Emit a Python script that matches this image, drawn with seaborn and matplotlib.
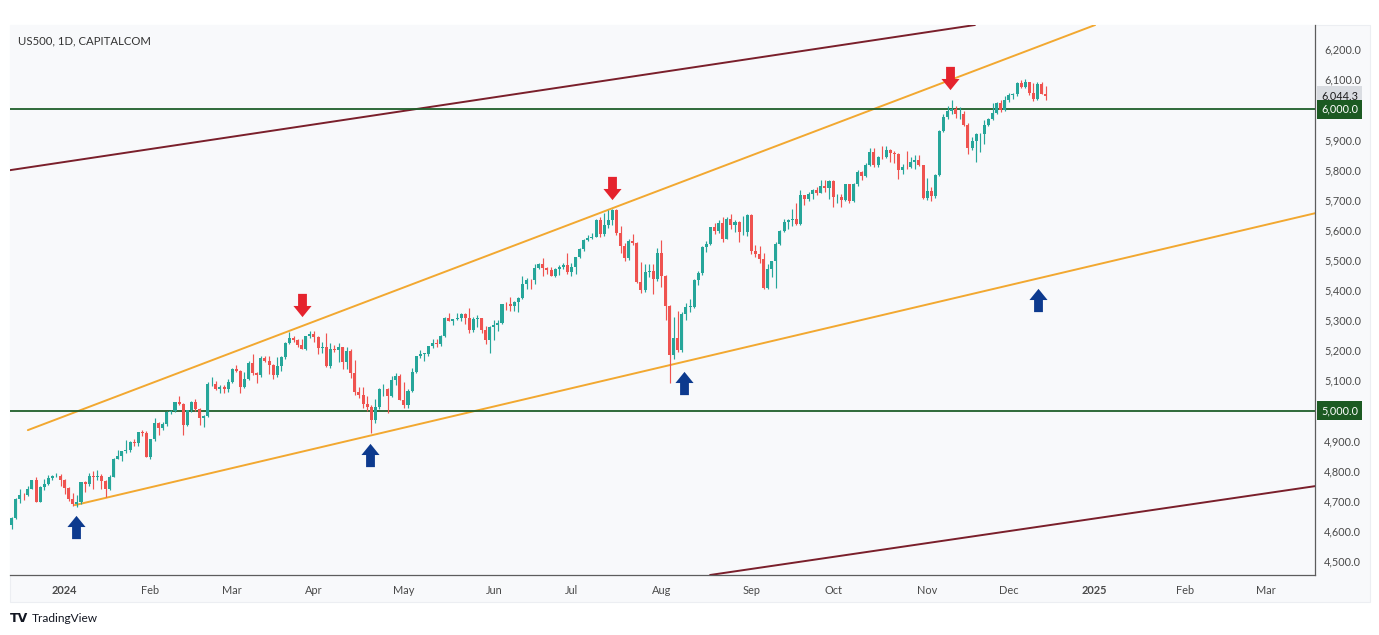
import numpy as np
import pandas as pd
import matplotlib
matplotlib.use("Agg")
import matplotlib.pyplot as plt
import seaborn as sns
from matplotlib.path import Path
from matplotlib.patches import Rectangle
from matplotlib.transforms import blended_transform_factory, offset_copy

# ------------------------------------------------------------------ data
title = "US500, 1D, CAPITALCOM"
start_date = "2023-12-12"
axis_end_date = "2025-03-31"
holidays = ["2023-12-25", "2024-01-01", "2024-01-15", "2024-02-19", "2024-03-29",
            "2024-05-27", "2024-06-19", "2024-07-04", "2024-09-02", "2024-11-28",
            "2024-12-25", "2025-01-01"]

opens = [
    4620, 4644, 4707, 4720, 4719, 4741, 4768, 4698, 4747, 4755, 4775, 4782, 4783,
    4770, 4743, 4705, 4689, 4697, 4764, 4757, 4783, 4780, 4784, 4766, 4739, 4781, 4840, 4850, 4865, 4869, 4894, 4891, 4928, 4925,
    4846, 4906, 4959, 4943, 4954, 4995, 4998, 5027, 5022, 4953, 5001, 5030, 5006, 4976, 4982, 5087, 5089, 5070, 5078, 5070,
    5096, 5137, 5131, 5079, 5105, 5157, 5124, 5118, 5175, 5165, 5150, 5117, 5149, 5179, 5225, 5242, 5234, 5218, 5204, 5248,
    5254, 5244, 5206, 5211, 5147, 5204, 5202, 5210, 5161, 5199, 5123, 5062, 5051, 5022, 5011, 4967, 5011, 5071, 5072, 5048, 5100, 5116,
    5036, 5018, 5064, 5128, 5181, 5188, 5188, 5214, 5223, 5221, 5247, 5308, 5297, 5303, 5308, 5321, 5307, 5268, 5305, 5306, 5267, 5235,
    5278, 5283, 5291, 5354, 5353, 5347, 5361, 5375, 5421, 5434, 5432, 5473, 5487, 5473, 5465, 5448, 5469, 5478, 5483,
    5460, 5475, 5509, 5537, 5567, 5573, 5577, 5634, 5585, 5615, 5631, 5667, 5588, 5545, 5505, 5564, 5556, 5427, 5399, 5459, 5464, 5436,
    5522, 5447, 5347, 5186, 5240, 5200, 5319, 5344, 5344, 5434, 5455, 5543, 5554, 5608, 5597, 5621, 5571, 5635, 5617, 5626, 5592, 5592,
    5648, 5529, 5520, 5503, 5408, 5471, 5496, 5554, 5596, 5626, 5633, 5635, 5618, 5714, 5703, 5719, 5733, 5722, 5745, 5738,
    5762, 5709, 5710, 5700, 5751, 5696, 5751, 5792, 5780, 5815, 5860, 5815, 5842, 5841, 5865, 5854, 5851, 5797, 5810, 5808, 5824, 5833, 5814,
    5705, 5729, 5713, 5783, 5929, 5973, 5996, 6001, 5984, 5985, 5949, 5871, 5894, 5917, 5917, 5949, 5969, 5987, 6022, 5999,
    6032, 6047, 6050, 6086, 6075, 6090, 6053, 6035, 6084, 6051,
]
highs = [
    4646, 4709, 4739, 4726, 4749, 4769, 4779, 4748, 4772, 4785, 4785, 4793, 4789,
    4772, 4745, 4727, 4721, 4764, 4766, 4791, 4799, 4803, 4790, 4768, 4785, 4842, 4868, 4866, 4903, 4898, 4907, 4929, 4934, 4932,
    4906, 4975, 4961, 4963, 4999, 5001, 5030, 5048, 5025, 5002, 5033, 5039, 5010, 4984, 5094, 5111, 5098, 5084, 5085, 5105,
    5140, 5150, 5134, 5128, 5165, 5189, 5128, 5180, 5182, 5180, 5155, 5177, 5180, 5226, 5261, 5246, 5237, 5236, 5249, 5265,
    5264, 5246, 5229, 5256, 5223, 5219, 5224, 5212, 5211, 5205, 5169, 5079, 5077, 5048, 5020, 5038, 5076, 5089, 5075, 5114, 5124, 5120,
    5096, 5073, 5140, 5181, 5200, 5191, 5215, 5239, 5238, 5250, 5311, 5325, 5305, 5325, 5324, 5325, 5342, 5311, 5316, 5308, 5280, 5280,
    5302, 5299, 5355, 5362, 5376, 5363, 5376, 5448, 5441, 5438, 5488, 5490, 5506, 5478, 5478, 5473, 5483, 5490, 5524,
    5490, 5510, 5539, 5571, 5584, 5590, 5635, 5642, 5655, 5667, 5670, 5670, 5614, 5557, 5570, 5586, 5560, 5492, 5488, 5487, 5486, 5539,
    5567, 5450, 5350, 5312, 5330, 5327, 5357, 5371, 5436, 5464, 5545, 5564, 5609, 5621, 5633, 5643, 5642, 5651, 5631, 5630, 5646, 5651,
    5652, 5551, 5546, 5522, 5485, 5497, 5560, 5600, 5637, 5637, 5670, 5690, 5733, 5716, 5725, 5736, 5742, 5767, 5764, 5765,
    5765, 5720, 5719, 5753, 5752, 5757, 5797, 5795, 5823, 5871, 5871, 5845, 5879, 5879, 5867, 5863, 5855, 5817, 5862, 5842, 5848, 5850, 5815,
    5772, 5742, 5784, 5933, 5983, 6012, 6030, 6010, 6009, 5993, 5954, 5909, 5920, 5920, 5963, 5972, 6020, 6025, 6030, 6044,
    6053, 6053, 6090, 6099, 6100, 6092, 6088, 6092, 6090, 6078,
]
lows = [
    4608, 4640, 4694, 4704, 4715, 4740, 4698, 4695, 4736, 4752, 4768, 4778, 4751,
    4723, 4700, 4682, 4680, 4690, 4730, 4750, 4740, 4769, 4740, 4714, 4735, 4778, 4838, 4832, 4860, 4862, 4881, 4882, 4915, 4845,
    4840, 4900, 4919, 4936, 4950, 4987, 4994, 5017, 4920, 4950, 4995, 4997, 4953, 4946, 4978, 5081, 5068, 5057, 5057, 5063,
    5090, 5127, 5057, 5075, 5100, 5117, 5092, 5110, 5160, 5122, 5104, 5112, 5130, 5170, 5222, 5229, 5212, 5203, 5200, 5240,
    5229, 5187, 5190, 5146, 5140, 5195, 5160, 5138, 5139, 5108, 5053, 5040, 5008, 4999, 4925, 4960, 5005, 5048, 4991, 5045, 5085, 5035,
    5010, 5010, 5060, 5125, 5175, 5165, 5180, 5206, 5211, 5215, 5245, 5296, 5283, 5299, 5297, 5287, 5257, 5262, 5279, 5257, 5222, 5190,
    5235, 5264, 5288, 5335, 5331, 5330, 5328, 5370, 5403, 5403, 5421, 5469, 5446, 5452, 5447, 5445, 5451, 5471, 5452,
    5446, 5452, 5505, 5530, 5563, 5570, 5575, 5576, 5580, 5606, 5615, 5584, 5522, 5497, 5500, 5550, 5422, 5390, 5395, 5445, 5386, 5430,
    5411, 5302, 5090, 5170, 5195, 5195, 5300, 5326, 5340, 5418, 5450, 5528, 5550, 5585, 5590, 5561, 5568, 5602, 5593, 5561, 5584, 5581,
    5520, 5510, 5490, 5402, 5405, 5442, 5406, 5550, 5592, 5602, 5614, 5615, 5615, 5683, 5697, 5703, 5716, 5721, 5727, 5703,
    5677, 5690, 5675, 5696, 5690, 5692, 5745, 5764, 5775, 5812, 5809, 5808, 5835, 5838, 5825, 5822, 5768, 5785, 5802, 5805, 5802, 5812, 5703,
    5700, 5696, 5705, 5780, 5925, 5968, 5985, 5971, 5967, 5946, 5853, 5865, 5825, 5860, 5885, 5944, 5964, 5985, 5990, 5995,
    6025, 6034, 6045, 6070, 6072, 6048, 6028, 6030, 6050, 6032,
]
closes = [
    4644, 4707, 4720, 4719, 4741, 4768, 4698, 4747, 4755, 4775, 4782, 4783, 4770,
    4743, 4705, 4689, 4697, 4764, 4757, 4783, 4780, 4784, 4766, 4739, 4781, 4840, 4850, 4865, 4869, 4894, 4891, 4928, 4925, 4846,
    4906, 4959, 4943, 4954, 4995, 4998, 5027, 5022, 4953, 5001, 5030, 5006, 4976, 4982, 5087, 5089, 5070, 5078, 5070, 5096,
    5137, 5131, 5079, 5105, 5157, 5124, 5118, 5175, 5165, 5150, 5117, 5149, 5179, 5225, 5242, 5234, 5218, 5204, 5248, 5254,
    5244, 5206, 5211, 5147, 5204, 5202, 5210, 5161, 5199, 5123, 5062, 5051, 5022, 5011, 4967, 5011, 5071, 5072, 5048, 5100, 5116, 5036,
    5018, 5064, 5128, 5181, 5188, 5188, 5214, 5223, 5221, 5247, 5308, 5297, 5303, 5308, 5321, 5307, 5268, 5305, 5306, 5267, 5235, 5278,
    5283, 5291, 5354, 5353, 5347, 5361, 5375, 5421, 5434, 5432, 5473, 5487, 5473, 5465, 5448, 5469, 5478, 5483, 5460,
    5475, 5509, 5537, 5567, 5573, 5577, 5634, 5585, 5615, 5631, 5667, 5588, 5545, 5505, 5564, 5556, 5427, 5399, 5459, 5464, 5436, 5522,
    5447, 5347, 5186, 5240, 5200, 5319, 5344, 5344, 5434, 5455, 5543, 5554, 5608, 5597, 5621, 5571, 5635, 5617, 5626, 5592, 5592, 5648,
    5529, 5520, 5503, 5408, 5471, 5496, 5554, 5596, 5626, 5633, 5635, 5618, 5714, 5703, 5719, 5733, 5722, 5745, 5738, 5762,
    5709, 5710, 5700, 5751, 5696, 5751, 5792, 5780, 5815, 5860, 5815, 5842, 5841, 5865, 5854, 5851, 5797, 5810, 5808, 5824, 5833, 5814, 5705,
    5729, 5713, 5783, 5929, 5973, 5996, 6001, 5984, 5985, 5949, 5871, 5894, 5917, 5917, 5949, 5969, 5987, 6022, 5999, 6032,
    6047, 6050, 6086, 6075, 6090, 6053, 6035, 6084, 6051, 6044.3,
]

month_labels = ["2024", "Feb", "Mar", "Apr", "May", "Jun", "Jul", "Aug", "Sep",
                "Oct", "Nov", "Dec", "2025", "Feb", "Mar"]
month_starts = pd.date_range("2024-01-01", "2025-03-01", freq="MS")
price_ticks = [4500, 4600, 4700, 4800, 4900, 5000, 5100, 5200, 5300, 5400,
               5500, 5600, 5700, 5800, 5900, 6000, 6100, 6200]
level_prices = [6000.0, 5000.0]
last_price = closes[-1]

# trend lines: (bar index, price) end points
maroon_upper = ([-0.4, 235.7], [5798, 6280])
maroon_lower = ([170.9, 318.9], [4454, 4749])
orange_upper = ([4.0, 265.1], [4935, 6280])
orange_lower = ([15.5, 318.9], [4686, 5655])
# signal arrows (bar index, price)
red_arrow_x = [71.1, 146.9, 229.6]
red_arrow_y = [5350, 5739, 6104]
blue_arrow_x = [15.8, 87.7, 164.5, 251.2]
blue_arrow_y = [4613, 4852, 5091, 5367]

# ------------------------------------------------------------------ style
sns.set_style("white")
plt.rcParams["font.family"] = ["Lato", "DejaVu Sans"]

BG = "#f8f9fb"
UP = "#26a69a"
DOWN = "#ef5350"

W, H = 1379, 635
fig = plt.figure(figsize=(W / 100, H / 100), dpi=100)
fig.patch.set_facecolor("white")
panel = Rectangle((10 / W, 1 - 602 / H), 1360 / W, 577 / H,
                  transform=fig.transFigure, facecolor=BG,
                  edgecolor="#eceef2", lw=0.8, zorder=-10)
fig.patches.append(panel)
ax = fig.add_axes([10 / W, 1 - 575 / H, 1305 / W, 550 / H])
ax.set_zorder(1)
ax.set_facecolor(BG)

# dates for bars
days = pd.bdate_range(start_date, axis_end_date)
days = days[~days.isin(pd.to_datetime(holidays))]
n = len(closes)
x = np.arange(n)
o = np.array(opens, dtype=float)
c = np.array(closes, dtype=float)
h = np.array(highs, dtype=float)
l = np.array(lows, dtype=float)
colors = np.where(c >= o, UP, DOWN)

# trend lines / levels
for (xs, ys), col in [(maroon_upper, "#7a1f2b"), (maroon_lower, "#7a1f2b"),
                      (orange_upper, "#f2a830"), (orange_lower, "#f2a830")]:
    sns.lineplot(x=xs, y=ys, color=col, lw=1.4, ax=ax, zorder=2)
for lv in level_prices:
    ax.axhline(lv, color="#1f5f2a", lw=1.3, zorder=2)

# candles
ax.vlines(x, l, h, colors=colors, lw=0.85, zorder=3)
body = np.maximum(np.abs(c - o), 1.5)
ax.bar(x, body, bottom=np.minimum(o, c), width=0.74, color=colors, lw=0, zorder=4)

# arrows
up_arrow = Path([(-0.19, -0.5), (0.19, -0.5), (0.19, 0.02), (0.39, 0.02),
                 (0.0, 0.5), (-0.39, 0.02), (-0.19, 0.02), (-0.19, -0.5)],
                [Path.MOVETO] + [Path.LINETO] * 6 + [Path.CLOSEPOLY])
down_arrow = Path([(vx, -vy) for vx, vy in up_arrow.vertices], up_arrow.codes)
ax.scatter(red_arrow_x, red_arrow_y, marker=down_arrow, s=280, color="#e5232d",
           lw=0, zorder=6)
ax.scatter(blue_arrow_x, blue_arrow_y, marker=up_arrow, s=280, color="#0d3a8e",
           lw=0, zorder=6)

# axes
ax.set_xlim(-0.37, 318.9)
ax.set_ylim(4454, 6280)
ax.yaxis.tick_right()
ax.set_yticks(price_ticks)
ax.set_yticklabels(["" if p in level_prices else f"{p:,.1f}" for p in price_ticks])
ax.tick_params(axis="y", length=0, pad=6.5, labelsize=7.8, labelcolor="#4a4a4a")
tick_pos = [int(np.argmax(days >= m)) for m in month_starts]
ax.set_xticks(tick_pos)
ax.set_xticklabels(month_labels)
ax.tick_params(axis="x", length=0, pad=7, labelsize=7.9, labelcolor="#4a4a4a")
for lab in ax.get_xticklabels():
    if lab.get_text() in ("2024", "2025"):
        lab.set_fontweight("bold")
ax.set_xlabel("")
ax.set_ylabel("")
for side in ("top", "left"):
    ax.spines[side].set_visible(False)
for side in ("right", "bottom"):
    ax.spines[side].set_color("#5d5d5d")
    ax.spines[side].set_linewidth(0.9)
ax.grid(False)

# price boxes on the scale
tr = offset_copy(blended_transform_factory(ax.transAxes, ax.transData), fig=fig,
                 x=6, y=0, units="dots")
ax.text(1.0, last_price, f"{last_price:,.1f}", transform=tr, ha="left", va="center",
        fontsize=7.8, color="#1c1c1c", clip_on=False, zorder=10,
        bbox=dict(boxstyle="square,pad=0.38", fc="#d9dce1", ec="none"))
for lv in level_prices:
    ax.text(1.0, lv, f"{lv:,.1f}", transform=tr, ha="left", va="center",
            fontsize=7.8, color="white", clip_on=False, zorder=10,
            bbox=dict(boxstyle="square,pad=0.38", fc="#1c5a22", ec="none"))

# texts
fig.text(18 / W, 1 - 41 / H, title, ha="left", va="center", fontsize=8.2,
         color="#333333", zorder=5)
fig.text(10 / W, 1 - 618 / H, "TV", ha="left", va="center", fontsize=9,
         fontweight="heavy", color="#131722", family="DejaVu Sans")
fig.text(32 / W, 1 - 618 / H, "TradingView", ha="left", va="center", fontsize=8.6,
         color="#131722")

fig.savefig("out.png", dpi=100, facecolor="white")
